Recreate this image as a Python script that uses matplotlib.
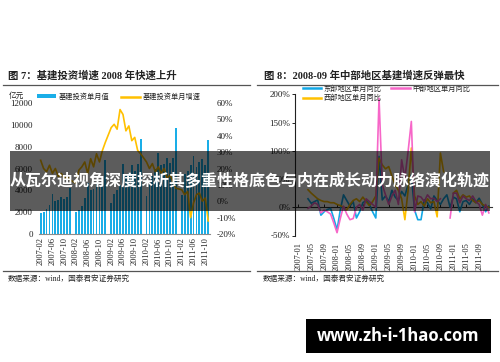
import numpy as np
import matplotlib
matplotlib.use('Agg')
import matplotlib.pyplot as plt
from matplotlib.patches import Rectangle, Patch
from matplotlib.lines import Line2D

plt.rcParams['font.family'] = ['Liberation Serif', 'Noto Sans CJK SC']

nan = np.nan

# ---- 图7 数据: 2007-02 .. 2011-11 (每年1月无数据)
invest = [1900, 2000, 2300, 2700, 3700, 3000, 3100, 3400, 3200, 3400, 4200,
          nan,
          2000, 2200, 2600, 3300, 4700, 4000, 4100, 4600, 4300, 4800, 6800,
          nan,
          2800, 3700, 4000, 4500, 6400, 5500, 5600, 6300, 5800, 6400, 8700,
          nan,
          3500, 4800, 5300, 6000, 7400, 6300, 6400, 7000, 6500, 7000, 9700,
          nan,
          3600, 5500, 5800, 6300, 7100, 6100, 6600, 6900, 6300, 8600]
growth = [25, 20, 18, 22, 17, 20, 15, 17, 14, 15, 13,
          nan,
          11, 19, 21, 24, 17, 26, 21, 29, 24, 31, 36,
          nan,
          45, 47, 44, 56, 53, 43, 46, 37, 39, 31, 29,
          nan,
          24, 20, 23, 18, 21, 17, 20, 14, 16, 12, 8,
          nan,
          7, 4, 6, -10, -1, 4, 5, 0, 2, -12]
left_ticks = ['2007-02', '2007-06', '2007-10', '2008-02', '2008-06', '2008-10',
              '2009-02', '2009-06', '2009-10', '2010-02', '2010-06', '2010-10',
              '2011-02', '2011-06', '2011-10']

# ---- 图8 数据: 2007-01 .. 2011-12, 单月同比 (%)
east = [nan, nan, nan, 15, 7, 10, 13, -14, -8, -4, -2, -20,
        -40, -5, 22, 12, 2, 10, -19, -8, 8, 12, 5, -8,
        -19, 90, 13, 20, 10, 30, 18, 12, 28, 20, 40, 57,
        -5, -22, -22, 13, 8, -3, 20, 12, 5, 15, 22, 0,
        18, 15, -8, 10, 12, 5, 15, 8, 16, 5, -8, 2]
central = [nan, nan, nan, -2, 2, 8, 5, -10, -5, -8, -12, -28,
           -45, -20, 2, -12, -22, -20, 0, 5, -5, 15, 10, 5,
           0, 193, 40, 22, 5, 20, 30, 5, 84, 51, 99, 152,
           -8, 20, 18, 10, 22, 15, 16, 10, 15, nan, nan, -19,
           25, 25, 8, 20, 15, 12, 20, 10, 5, -14, 5, -10]
west = [nan, nan, nan, 31, 25, 20, 15, 12, 10, 10, 8, 8,
        5, 3, 0, -5, 5, 12, 15, 10, 18, 10, 3, 10,
        20, 87, 75, 68, 72, 55, 40, 30, 15, -22, 30, 105,
        20, 5, 10, 2, 15, 8, 10, -17, 96, 63, nan, nan,
        25, 30, 15, 22, 18, 20, 12, 8, 12, 5, 2, 0]
right_ticks = ['2007-01', '2007-05', '2007-09', '2008-01', '2008-05', '2008-09',
               '2009-01', '2009-05', '2009-09', '2010-01', '2010-05', '2010-09',
               '2011-01', '2011-05', '2011-09']

W, H = 500, 362
def fx(x): return x / W
def fy(y): return 1 - y / H

fig = plt.figure(figsize=(5, 3.62), dpi=100)
fig.patch.set_facecolor('white')

BLUE = '#1AAEE8'
GOLD = '#FFC000'
PINK = '#F766C8'
TXT = '#222222'

# ================= 左图 =================
ax1 = fig.add_axes([fx(39.2), fy(234), 170.5 / W, 131 / H])
idx = np.arange(len(invest))
ax1.bar(idx, invest, width=0.62, color=BLUE, zorder=2)
ax1.set_xlim(-0.5, len(invest) - 0.5)
ax1.set_ylim(0, 12000)
ax1.set_yticks(range(0, 12001, 2000))
ax1.tick_params(axis='y', length=0, labelsize=6.5, pad=4.5, labelcolor=TXT)
ax1.set_xticks(idx[::4])
ax1.set_xticklabels(left_ticks, rotation=90, fontsize=6)
ax1.tick_params(axis='x', length=0, pad=2.5, labelcolor=TXT)
for s in ['top', 'right', 'left']:
    ax1.spines[s].set_visible(False)
ax1.spines['bottom'].set_color('#8c8c8c')
ax1.spines['bottom'].set_linewidth(0.8)

ax2 = ax1.twinx()
g = np.array(growth, dtype=float)
ok = ~np.isnan(g)
ax2.plot(idx[ok], g[ok], color=GOLD, lw=1.2, zorder=3)
ax2.set_ylim(-20, 60)
ax2.set_yticks(range(-20, 61, 10))
ax2.set_yticklabels([f'{v}%' for v in range(-20, 61, 10)])
ax2.tick_params(axis='y', length=0, labelsize=6.5, pad=5, labelcolor=TXT)
for s in ax2.spines.values():
    s.set_visible(False)

fig.text(fx(9), fy(95.5), '亿元', fontsize=5.5, color=TXT, va='center',
         family=['Noto Sans CJK SC'])
h_left = [Patch(facecolor=BLUE, edgecolor='none'),
          Line2D([], [], color=GOLD, lw=1.8)]
fig.legend(h_left, ['基建投资单月值', '基建投资单月增速'], ncol=2,
           loc='center left', bbox_to_anchor=(fx(33), fy(97)), frameon=False,
           prop={'family': ['Noto Sans CJK SC'], 'size': 5.2},
           handlelength=2.7, handleheight=0.5, handletextpad=0.3,
           columnspacing=1.6, borderpad=0, labelcolor=TXT)

# ================= 右图 =================
ax3 = fig.add_axes([fx(295.07), fy(235.5), 197 / W, 141.2 / H])
xr = np.arange(len(east))
ax3.plot(xr, east, color='#12A8E6', lw=1.2, label='东部地区单月同比')
ax3.plot(xr, west, color=GOLD, lw=1.2, label='西部地区单月同比')
ax3.plot(xr, central, color=PINK, lw=1.2, label='中部地区单月同比')
ax3.set_xlim(-1, len(east))
ax3.set_ylim(-50, 200)
ax3.set_yticks(range(-50, 201, 50))
ax3.set_yticklabels([f'{v}%' for v in range(-50, 201, 50)])
ax3.tick_params(axis='y', length=2, width=0.6, labelsize=6.5, pad=1.5,
                labelcolor=TXT)
ax3.set_xticks(xr[::4])
ax3.set_xticklabels(right_ticks, rotation=90, fontsize=6)
ax3.tick_params(axis='x', length=0, pad=5, labelcolor=TXT)
for s in ['top', 'right', 'bottom']:
    ax3.spines[s].set_visible(False)
ax3.spines['left'].set_color('#222222')
ax3.spines['left'].set_linewidth(0.8)
zero = ax3.secondary_xaxis(0.2)
zero.set_xticks(xr[::4])
zero.tick_params(axis='x', length=2, width=0.6, direction='in', labelbottom=False)
zero.spines['bottom'].set_color('#333333')
zero.spines['bottom'].set_linewidth(0.8)

leg = ax3.legend(ncol=2, loc='center left', bbox_to_anchor=(fx(299), fy(93.5)),
                 bbox_transform=fig.transFigure, frameon=False,
                 prop={'family': ['Noto Sans CJK SC'], 'size': 5.2},
                 handlelength=2.6, handletextpad=0.3, columnspacing=1.3,
                 labelspacing=0.15, borderpad=0, labelcolor=TXT)
for ln in leg.get_lines():
    ln.set_linewidth(1.8)

# ================= 标题 / 来源 =================
fig.text(fx(8), fy(76), '图 7：基建投资增速 2008 年快速上升', fontsize=7.5,
         weight='bold', va='center', color=TXT)
fig.text(fx(264), fy(76), '图 8：2008-09 年中部地区基建增速反弹最快', fontsize=7.5,
         weight='bold', va='center', color=TXT)
for x0, x1 in [(3, 250), (257, 498)]:
    fig.add_artist(Line2D([fx(x0), fx(x1)], [fy(85), fy(85)], color='#555555', lw=0.9))
    fig.add_artist(Line2D([fx(x0), fx(x1)], [fy(270.5), fy(270.5)], color='#555555', lw=0.9))
fig.text(fx(8), fy(279), '数据来源：wind，国泰君安证券研究', fontsize=5.5,
         va='center', color=TXT)
fig.text(fx(263), fy(279), '数据来源：wind，国泰君安证券研究', fontsize=5.5,
         va='center', color=TXT)

# ================= 横幅 =================
fig.add_artist(Rectangle((fx(10), fy(211)), 480 / W, 60 / H, transform=fig.transFigure,
                         facecolor='black', alpha=0.64, edgecolor='none', zorder=5))
fig.text(fx(250), fy(181), '从瓦尔迪视角深度探析其多重性格底色与内在成长动力脉络演化轨迹',
         fontsize=11.5, weight='bold', color='white', ha='center', va='center',
         family=['Noto Sans CJK SC'], zorder=6)

fig.add_artist(Rectangle((fx(306), fy(353)), 185 / W, 34 / H, transform=fig.transFigure,
                         facecolor='black', edgecolor='none', zorder=5))
fig.text(fx(398.5), fy(336), 'www.zh-i-1hao.com', fontsize=12, weight='bold',
         color='white', ha='center', va='center', family=['Open Sans'], zorder=6)

fig.savefig('out.png', dpi=100)
